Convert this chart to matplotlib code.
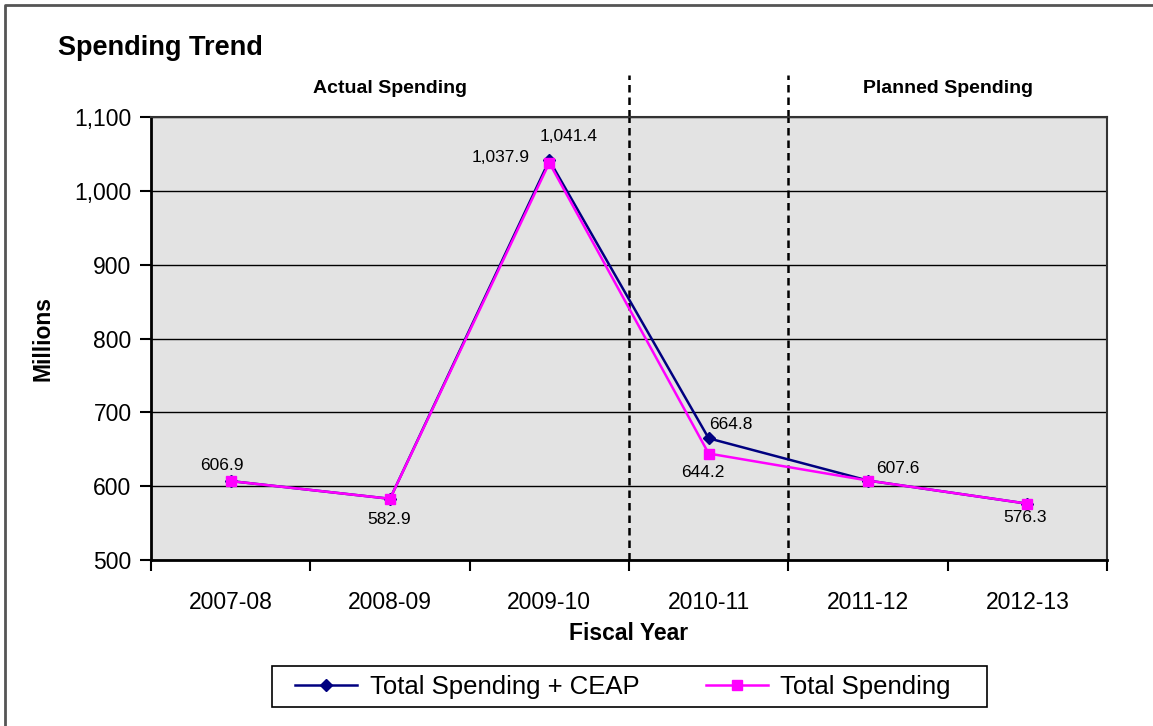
import matplotlib
matplotlib.use("Agg")
import matplotlib.pyplot as plt
from matplotlib.ticker import FuncFormatter, FixedLocator
from matplotlib.lines import Line2D
from matplotlib.patches import Rectangle

plt.rcParams['font.family'] = ['Liberation Sans', 'DejaVu Sans']

years = ["2007-08", "2008-09", "2009-10", "2010-11", "2011-12", "2012-13"]
ceap = [606.9, 582.9, 1041.4, 664.8, 607.6, 576.3]
total = [606.9, 582.9, 1037.9, 644.2, 607.6, 576.3]

# label offsets in points (dx, dy) and alignment
ceap_lbl = {2: (14, 17, "center"), 3: (0, 10, "left"), 4: (6, 9, "left")}
total_lbl = {0: (-6, 11, "center"), 1: (-1, -15, "center"), 2: (-14, 4, "right"),
             3: (-4, -14, "center"), 5: (-2, -10, "center")}

fig = plt.figure(figsize=(11.53, 7.26), dpi=100)
ax = fig.add_axes([151/1153, 1 - 560/726, (1107-151)/1153, (560-117)/726])
ax.set_facecolor("#e3e3e3")

x = list(range(len(years)))
ax.plot(x, ceap, color="#000080", marker="D", markersize=6, lw=1.8, zorder=3)
ax.plot(x, total, color="#ff00ff", marker="s", markersize=7.5, lw=1.8, zorder=4)

for i, (dx, dy, ha) in ceap_lbl.items():
    ax.annotate(f"{ceap[i]:,.1f}", (x[i], ceap[i]), xytext=(dx, dy),
                textcoords="offset points", ha=ha, va="center", fontsize=12.5)
for i, (dx, dy, ha) in total_lbl.items():
    ax.annotate(f"{total[i]:,.1f}", (x[i], total[i]), xytext=(dx, dy),
                textcoords="offset points", ha=ha, va="center", fontsize=12.5)

ax.set_xlim(-0.5, len(years) - 0.5)
ax.set_ylim(500, 1100)
ax.set_yticks(range(500, 1101, 100))
ax.yaxis.set_major_formatter(FuncFormatter(lambda v, p: f"{int(v):,}"))
ax.grid(axis="y", color="black", lw=1)
ax.set_axisbelow(True)

ax.set_xticks(x)
ax.set_xticklabels(years, fontsize=16.5)
ax.tick_params(axis="x", which="major", length=0, pad=22)
ax.xaxis.set_minor_locator(FixedLocator([i - 0.5 for i in range(len(years) + 1)]))
ax.tick_params(axis="x", which="minor", length=8, width=1.5, direction="out")
ax.tick_params(axis="y", labelsize=16.5, length=8, width=1.5, direction="out", pad=6)

for s in ["left", "bottom"]:
    ax.spines[s].set_linewidth(2)
for s in ["top", "right"]:
    ax.spines[s].set_color("#333333")
    ax.spines[s].set_linewidth(1.5)

for bx in [2.5, 3.5]:
    ax.axvline(bx, color="black", ls=(0, (3, 2)), lw=1.8)
    ax.plot([bx, bx], [1100, 1157], color="black", ls=(0, (3, 2)), lw=1.8, clip_on=False)

ax.text(1.0, 1138, "Actual Spending", ha="center", va="center", fontsize=14, fontweight="bold")
ax.text(4.5, 1138, "Planned Spending", ha="center", va="center", fontsize=14, fontweight="bold")

ax.set_xlabel("Fiscal Year", fontsize=16.5, fontweight="bold", labelpad=6)
ax.set_ylabel("Millions", fontsize=16.5, fontweight="bold", labelpad=14)

fig.text(58/1153, 1 - 48/726, "Spending Trend", fontsize=19.5, fontweight="bold", va="center")

handles = [Line2D([], [], color="#000080", marker="D", markersize=6, lw=1.8),
           Line2D([], [], color="#ff00ff", marker="s", markersize=7.5, lw=1.8)]
leg = fig.legend(handles, ["Total Spending + CEAP", "Total Spending"], ncol=2,
                 loc="center", bbox_to_anchor=(623/1153, 1 - 687/726), fontsize=18.5,
                 frameon=False, columnspacing=2.6, handlelength=2.4, handletextpad=0.5)
fig.add_artist(Rectangle((272/1153, 1 - 707/726), (987-272)/1153, 41/726,
                         transform=fig.transFigure, fill=False, edgecolor="black", lw=1.2))

# outer border (top and left visible)
fig.add_artist(Line2D([5/1153, 5/1153, 1.0], [0, 1 - 5/726, 1 - 5/726],
                      transform=fig.transFigure, color="#555555", lw=2))

fig.savefig("out.png", dpi=100)
